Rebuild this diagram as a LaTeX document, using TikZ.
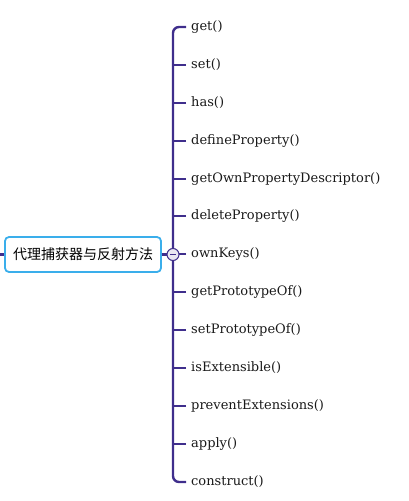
\documentclass[tikz,border=0pt]{standalone}
\usepackage{fontspec}
\setmainfont{DejaVu Serif}
\newfontfamily\cjk{Noto Sans CJK SC}
\definecolor{branchc}{HTML}{3F2E8C}
\definecolor{rootc}{HTML}{3AAEEB}
\begin{document}
\begin{tikzpicture}[x=1pt, y=-1pt,
	branch/.style={draw=branchc, line width=2.4pt},
	item/.style={anchor=west, inner sep=0pt, font=\fontsize{13}{15}\selectfont, text=black!90},
	root/.style={draw=rootc, line width=1.8pt, rounded corners=4pt, fill=white, minimum width=156pt, minimum height=35pt, inner sep=0pt, font=\cjk\fontsize{14}{16}\selectfont},
	fold/.style={circle, draw=branchc, line width=1pt, fill=branchc!12, minimum size=12pt, inner sep=0pt}]
		\useasboundingbox (0,0) rectangle (408,501);
		\node[item] (get) at (191,27) {get()};
		\node[item] (set) at (191,65) {set()};
		\node[item] (has) at (191,103) {has()};
		\node[item] (defprop) at (191,141) {defineProperty()};
		\node[item] (getdesc) at (191,179) {getOwnPropertyDescriptor()};
		\node[item] (delprop) at (191,216) {deleteProperty()};
		\node[item] (ownkeys) at (191,254) {ownKeys()};
		\node[item] (getproto) at (191,292) {getPrototypeOf()};
		\node[item] (setproto) at (191,330) {setPrototypeOf()};
		\node[item] (isext) at (191,368) {isExtensible()};
		\node[item] (prevext) at (191,406) {preventExtensions()};
		\node[item] (apply) at (191,444) {apply()};
		\node[item] (construct) at (191,482) {construct()};
		\node[root] (root) at (83,254.5) {代理捕获器与反射方法};
		\coordinate (stub) at (0,254.5);
		\coordinate (trunk) at (173,254.5);
		% trunk and branches
		\draw[branch, rounded corners=6pt] ([xshift=-5pt]get.west) -| (trunk) |- ([xshift=-5pt]construct.west);
		\foreach \n in {set,has,defprop,getdesc,delprop,ownkeys,getproto,setproto,isext,prevext,apply}
			\draw[branch] ([xshift=-5pt]\n.west) -- (trunk |- \n.west);
		\draw[branch] (stub) -- (root.west);
		\draw[branch] (root.east) -- (trunk);
		\node[fold] (foldbtn) at (trunk) {};
		\draw[branchc, line width=1pt] ([xshift=-3pt]foldbtn.center) -- ([xshift=3pt]foldbtn.center);
\end{tikzpicture}
\end{document}
